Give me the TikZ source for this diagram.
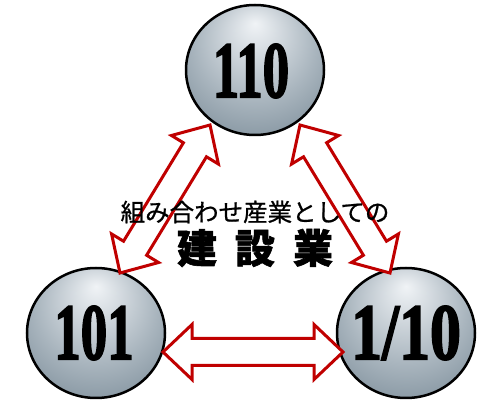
\documentclass[tikz,border=0pt]{standalone}
\usepackage{fontspec}
\setmainfont{Liberation Serif}
\newfontfamily\numfont{Liberation Serif}[BoldFeatures={FakeBold=2.5}]
\newfontfamily\cjk{Noto Sans CJK JP}[FakeBold=0.8]
\newfontfamily\cjkb{Noto Sans CJK JP}[BoldFeatures={FakeBold=1.5}]
\usetikzlibrary{shapes.geometric,calc}
\definecolor{ballhi}{HTML}{F0F3F6}
\definecolor{ballmid}{HTML}{A9B5BE}
\definecolor{balllo}{HTML}{566B7A}
\definecolor{arrowred}{HTML}{C00000}
\pgfdeclareradialshading{sphere}{\pgfpoint{0bp}{18bp}}{color(0bp)=(ballhi); color(22bp)=(ballmid); color(50bp)=(balllo)}
\tikzset{
  ball/.style={ellipse, draw=black, line width=2.5pt, shading=sphere,
    minimum width=138pt, minimum height=130pt, inner sep=0pt},
  arrowbox/.style={draw=arrowred, fill=white, line width=3pt, line join=miter},
  numtxt/.style={font=\numfont\bfseries\fontsize{80}{80}\selectfont, xscale=0.66, inner sep=0pt}
}
\newcommand\dblarrow[2]{%
  \path ($(#1)!29pt!(#2)$) coordinate (hA) ($(#2)!29pt!(#1)$) coordinate (hB);
  \draw[arrowbox] (#1) -- ($(hA)!27.5pt!90:(#2)$) -- ($(hA)!13.5pt!90:(#2)$)
    -- ($(hB)!13.5pt!-90:(#1)$) -- ($(hB)!27.5pt!-90:(#1)$) -- (#2)
    -- ($(hB)!27.5pt!90:(#1)$) -- ($(hB)!13.5pt!90:(#1)$)
    -- ($(hA)!13.5pt!-90:(#2)$) -- ($(hA)!27.5pt!-90:(#2)$) -- cycle;}
\begin{document}
\begin{tikzpicture}[x=1pt,y=-1pt]
\useasboundingbox (0,0) rectangle (477,403);
\node[ball] (top) at (255,70) {};
\node[ball] (left) at (96,333) {};
\node[ball] (right) at (406,333) {};
\node[numtxt] (ttop) at (251,71) {110};
\node[numtxt] (tleft) at (94,333) {101};
\node[numtxt, xscale=1.17] (tright) at (406,333) {1/10};
\coordinate (a1) at (210,125);
\coordinate (a2) at (120,273);
\coordinate (b1) at (300,125);
\coordinate (b2) at (390,273);
\coordinate (c1) at (163,352);
\coordinate (c2) at (343,352);
\dblarrow{a1}{a2}
\dblarrow{b1}{b2}
\dblarrow{c1}{c2}
\node[font=\cjk\fontsize{24.5}{24.5}\selectfont, inner sep=0pt] (l1) at (255,212) {組み合わせ産業としての};
\node[font=\cjkb\bfseries\fontsize{40}{40}\selectfont, inner sep=0pt] (l2) at (255,248) {建\hspace{18pt}設\hspace{18pt}業};
\end{tikzpicture}
\end{document}
